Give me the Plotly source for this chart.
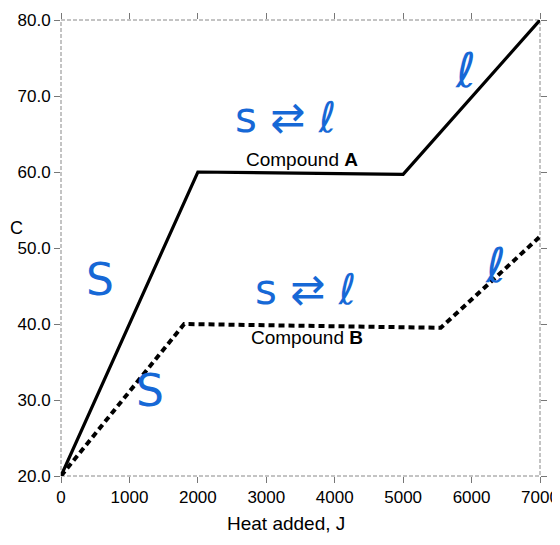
import plotly.graph_objects as go

# Compound A heating curve
a_heat = [0, 2000, 5000, 7000]
a_temp = [20.0, 60.0, 59.7, 80.0]
# Compound B heating curve
b_heat = [0, 1800, 5550, 7000]
b_temp = [20.0, 40.0, 39.5, 51.5]

x_ticks = [0, 1000, 2000, 3000, 4000, 5000, 6000, 7000]
y_ticks = [20, 30, 40, 50, 60, 70, 80]
y_tick_text = ["20.0", "30.0", "40.0", "50.0", "60.0", "70.0", "80.0"]

blue = "#1668d6"
hand = "DejaVu Sans"

fig = go.Figure()
fig.add_trace(go.Scatter(x=a_heat, y=a_temp, mode="lines",
                         line=dict(color="black", width=3.2), name="Compound A"))
fig.add_trace(go.Scatter(x=b_heat, y=b_temp, mode="lines",
                         line=dict(color="black", width=4, dash="6px,4px"), name="Compound B"))

annotations = [
    dict(x=3523, y=61.7, text="Compound <b>A</b>", showarrow=False,
         font=dict(family="Liberation Sans", size=19, color="black")),
    dict(x=3596, y=38.2, text="Compound <b>B</b>", showarrow=False,
         font=dict(family="Liberation Sans", size=19, color="black")),
    dict(x=3275, y=67.2, text="s ⇄ ℓ", showarrow=False, font=dict(family=hand, size=42, color=blue)),
    dict(x=3567, y=44.5, text="s ⇄ ℓ", showarrow=False, font=dict(family=hand, size=42, color=blue)),
    dict(x=5906, y=73.4, text="ℓ", showarrow=False, font=dict(family=hand, size=48, color=blue)),
    dict(x=6345, y=47.8, text="ℓ", showarrow=False, font=dict(family=hand, size=48, color=blue)),
    dict(x=570, y=45.8, text="S", showarrow=False, font=dict(family=hand, size=44, color=blue)),
    dict(x=1301, y=31.3, text="S", showarrow=False, font=dict(family=hand, size=44, color=blue)),
    dict(x=0, y=0.543, xref="paper", yref="paper", xanchor="left", xshift=-53,
         text="C", showarrow=False, font=dict(family="Liberation Sans", size=18, color="black")),
    dict(x=0.47, y=0, xref="paper", yref="paper", yanchor="middle", yshift=-47,
         text="Heat added, J", showarrow=False,
         font=dict(family="Liberation Sans", size=19, color="black")),
]

axis_common = dict(ticks="outside", ticklen=6, tickcolor="#777", showline=False,
                   mirror="ticks", showgrid=False, zeroline=False, automargin=False,
                   tickfont=dict(family="Liberation Sans", size=17, color="black"))

fig.update_layout(
    width=552, height=537,
    margin=dict(l=53, r=20, t=12, b=69),
    paper_bgcolor="white", plot_bgcolor="white",
    showlegend=False,
    annotations=annotations,
    shapes=[dict(type="rect", xref="paper", yref="paper", x0=0, y0=0, x1=1, y1=1,
                 line=dict(color="#888", width=1, dash="4px,2px"), layer="below")],
    xaxis=dict(range=[0, 7000], tickvals=x_ticks, **axis_common),
    yaxis=dict(range=[20, 80], tickvals=y_ticks, ticktext=y_tick_text, **axis_common),
)

fig.write_html("out.html")
